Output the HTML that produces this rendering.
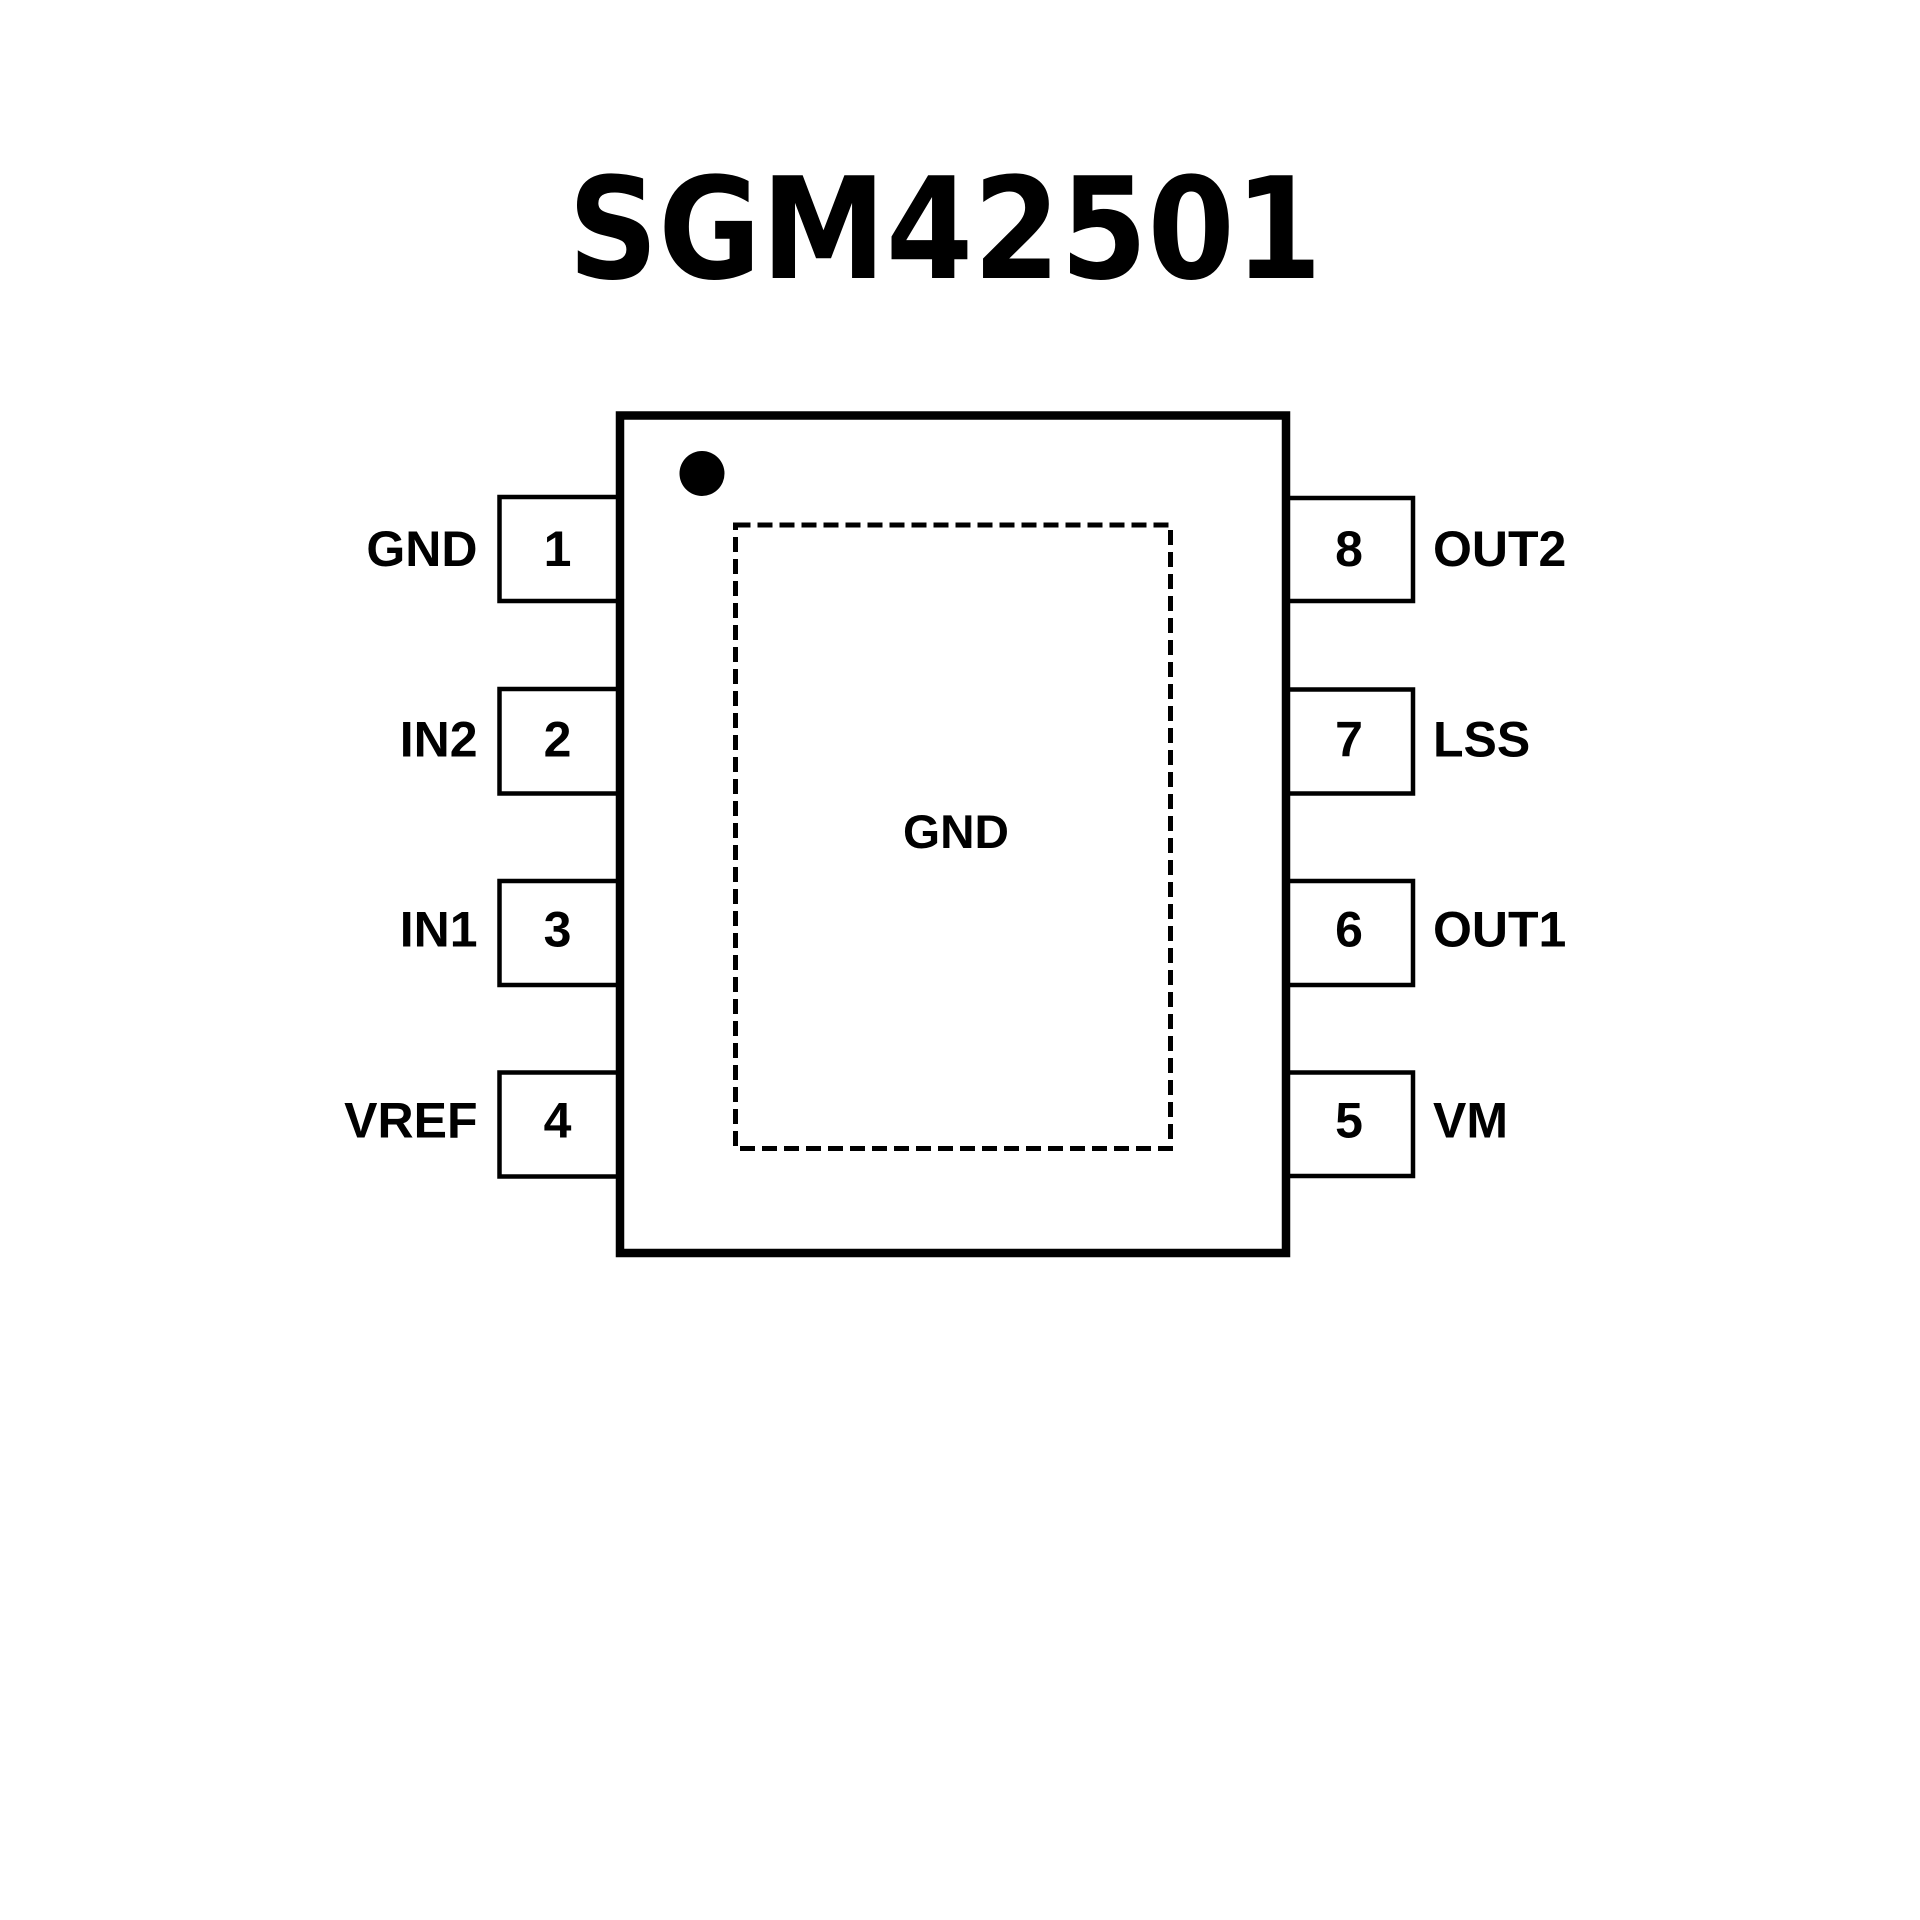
<!DOCTYPE html>
<html>
<head>
<meta charset="utf-8">
<style>
  html, body { margin: 0; padding: 0; background: #ffffff; }
  svg { display: block; }
</style>
</head>
<body>
<svg width="1920" height="1920" viewBox="0 0 1920 1920" xmlns="http://www.w3.org/2000/svg">
  <rect x="0" y="0" width="1920" height="1920" fill="#ffffff"/>

  <!-- Title -->
  <text x="568" y="278" font-family="'DejaVu Sans', 'Liberation Sans', sans-serif" font-weight="bold" font-size="141" textLength="754" lengthAdjust="spacingAndGlyphs" fill="#000">SGM42501</text>

  <!-- Left pin boxes -->
  <g fill="none" stroke="#000" stroke-width="4.5" stroke-linejoin="miter">
    <path d="M616 497 H499.5 V601 H616"/>
    <path d="M616 689 H499.5 V793.5 H616"/>
    <path d="M616 881 H499.5 V985 H616"/>
    <path d="M616 1072.5 H499.5 V1176.5 H616"/>
  </g>
  <!-- Right pin boxes -->
  <g fill="none" stroke="#000" stroke-width="4.5" stroke-linejoin="miter">
    <path d="M1290 498 H1413 V601 H1290"/>
    <path d="M1290 689.5 H1413 V793.5 H1290"/>
    <path d="M1290 881 H1413 V985 H1290"/>
    <path d="M1290 1072.5 H1413 V1176 H1290"/>
  </g>

  <!-- Body -->
  <rect x="620" y="415.5" width="666" height="837.5" fill="none" stroke="#000" stroke-width="8.5"/>

  <!-- Pin 1 dot -->
  <circle cx="702" cy="473.5" r="22.5" fill="#000"/>

  <!-- Exposed pad (dashed) -->
  <rect x="735.5" y="525" width="435" height="623.5" fill="none" stroke="#000" stroke-width="5" stroke-dasharray="15 7"/>

  <!-- Center label -->
  <text x="903" y="848" font-family="'Liberation Sans', Arial, sans-serif" font-weight="bold" font-size="47" textLength="106" lengthAdjust="spacingAndGlyphs" fill="#000">GND</text>

  <!-- Left labels -->
  <g font-family="'Liberation Sans', Arial, sans-serif" font-weight="bold" font-size="50" fill="#000" text-anchor="end">
    <text x="477.5" y="566">GND</text>
    <text x="477.5" y="756.7">IN2</text>
    <text x="477.5" y="946.7">IN1</text>
    <text x="477.5" y="1137.3">VREF</text>
  </g>
  <!-- Left numbers -->
  <g font-family="'Liberation Sans', Arial, sans-serif" font-weight="bold" font-size="50" fill="#000" text-anchor="middle">
    <text x="557.5" y="566">1</text>
    <text x="557.5" y="756.7">2</text>
    <text x="557.5" y="946.7">3</text>
    <text x="557.5" y="1137.3">4</text>
  </g>
  <!-- Right numbers -->
  <g font-family="'Liberation Sans', Arial, sans-serif" font-weight="bold" font-size="50" fill="#000" text-anchor="middle">
    <text x="1349" y="566">8</text>
    <text x="1349" y="756.7">7</text>
    <text x="1349" y="946.7">6</text>
    <text x="1349" y="1137.3">5</text>
  </g>
  <!-- Right labels -->
  <g font-family="'Liberation Sans', Arial, sans-serif" font-weight="bold" font-size="50" fill="#000" text-anchor="start">
    <text x="1433" y="566">OUT2</text>
    <text x="1433" y="756.7">LSS</text>
    <text x="1433" y="946.7">OUT1</text>
    <text x="1433" y="1137.3">VM</text>
  </g>
</svg>
</body>
</html>
